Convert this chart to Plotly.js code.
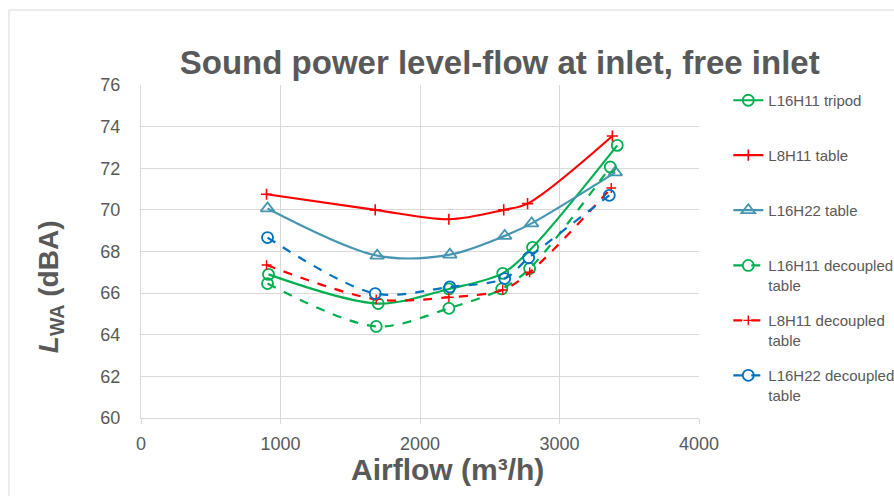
<!DOCTYPE html>
<html>
<head>
<meta charset="utf-8">
<script src="https://cdn.plot.ly/plotly-3.0.1.min.js"></script>
<style>
html,body{margin:0;padding:0;background:#ffffff;}
#chart{width:894px;height:496px;}
</style>
</head>
<body>
<div id="chart"></div>
<script>
// ---- data ----
const seriesNames = ["L16H11 tripod", "L8H11 table", "L16H22 table",
  "L16H11 decoupled<br>table", "L8H11 decoupled<br>table", "L16H22 decoupled<br>table"];

const tripodX = [914, 1700, 2207, 2593, 2807, 3414];
const tripodY = [66.9, 65.5, 66.2, 66.95, 68.2, 73.1];

const l8h11TableX = [900, 1679, 2207, 2600, 2771, 3379];
const l8h11TableY = [70.75, 70.0, 69.55, 70.0, 70.3, 73.55];

const l16h22TableX = [907, 1693, 2214, 2607, 2800, 3400];
const l16h22TableY = [70.07, 67.8, 67.85, 68.75, 69.35, 71.8];

const l16h11DecX = [907, 1686, 2207, 2586, 2786, 3364];
const l16h11DecY = [66.46, 64.4, 65.27, 66.2, 67.18, 72.06];

const l8h11DecX = [900, 1686, 2207, 2593, 2786, 3371];
const l8h11DecY = [67.35, 65.7, 65.8, 66.15, 67.0, 71.05];

const l16h22DecX = [907, 1679, 2214, 2607, 2779, 3357];
const l16h22DecY = [68.67, 65.98, 66.3, 66.7, 67.7, 70.7];

const xTickVals = [0, 1000, 2000, 3000, 4000];
const yTickVals = [60, 62, 64, 66, 68, 70, 72, 74, 76];

// ---- styling ----
const GREEN = "#00B050", RED = "#FF0000", TEAL = "#4796B1", BLUE = "#0070C0";
const FONT = "Arial, 'Liberation Sans', sans-serif";
const GREY = "#595959";

function tr(x, y, name, color, dash, symbol, msize, mw, leg) {
  return {
    x: x, y: y, name: name, type: "scatter", mode: "lines+markers",
    line: {color: color, width: 2.2, dash: dash, shape: "spline", smoothing: 0.9},
    marker: {symbol: symbol, size: msize, color: color, line: {color: color, width: mw}},
    legend: leg
  };
}

const data = [
  tr(tripodX, tripodY, seriesNames[0], GREEN, "solid", "circle-open", 11, 1.8, "legend"),
  tr(l8h11TableX, l8h11TableY, seriesNames[1], RED, "solid", "cross-thin-open", 8, 1.6, "legend2"),
  tr(l16h22TableX, l16h22TableY, seriesNames[2], TEAL, "solid", "triangle-up-open", 12, 1.8, "legend3"),
  tr(l16h11DecX, l16h11DecY, seriesNames[3], GREEN, "dash", "circle-open", 11, 1.8, "legend4"),
  tr(l8h11DecX, l8h11DecY, seriesNames[4], RED, "dash", "cross-thin-open", 7, 1.4, "legend5"),
  tr(l16h22DecX, l16h22DecY, seriesNames[5], BLUE, "dash", "circle-open", 11, 1.8, "legend6")
];

function leg(y) {
  return {x: 1.0525, xanchor: "left", y: y, yanchor: "top", valign: "top",
    font: {family: FONT, size: 15, color: GREY}, bgcolor: "rgba(0,0,0,0)",
    borderwidth: 0};
}

const layout = {
  width: 894, height: 496,
  margin: {l: 141, r: 195, t: 85, b: 78, pad: 0, autoexpand: false},
  paper_bgcolor: "#ffffff", plot_bgcolor: "#ffffff",
  font: {family: FONT, color: GREY},
  title: {text: "<b>Sound power level-flow at inlet, free inlet</b>",
    font: {family: FONT, size: 33, color: GREY},
    x: 0.559, xanchor: "center", xref: "container", y: 0.875, yanchor: "middle", yref: "container"},
  xaxis: {range: [0, 4000], tickvals: xTickVals, ticktext: xTickVals.map(String),
    showgrid: true, gridcolor: "#d9d9d9", gridwidth: 1,
    showline: true, linecolor: "#d9d9d9", linewidth: 1,
    ticks: "outside", ticklen: 5, tickcolor: "#d9d9d9",
    tickfont: {family: FONT, size: 18, color: GREY}, ticklabelstandoff: 4,
    zeroline: false, fixedrange: true, automargin: false},
  yaxis: {range: [60, 76], tickvals: yTickVals, ticktext: yTickVals.map(String),
    showgrid: true, gridcolor: "#d9d9d9", gridwidth: 1,
    showline: true, linecolor: "#d9d9d9", linewidth: 1,
    ticks: "", tickfont: {family: FONT, size: 18, color: GREY}, ticklabelstandoff: 16,
    zeroline: false, fixedrange: true, automargin: false},
  showlegend: true,
  legend: leg(1.003), legend2: leg(0.838), legend3: leg(0.673),
  legend4: leg(0.507), legend5: leg(0.342), legend6: leg(0.177),
  annotations: [
    {text: "<b><i>L</i><sub>WA</sub> (dBA)</b>", xref: "paper", yref: "paper",
      x: -0.163, y: 0.393, xanchor: "center", yanchor: "middle", textangle: -90,
      showarrow: false, font: {family: FONT, size: 28, color: GREY}},
    {text: "<b>Airflow (m³/h)</b>", xref: "paper", yref: "paper",
      x: 0.550, y: -0.156, xanchor: "center", yanchor: "middle",
      showarrow: false, font: {family: FONT, size: 30, color: GREY}}
  ],
  shapes: [
    {type: "line", xref: "paper", yref: "paper", x0: -0.2366, x1: -0.2366, y0: 1.2252, y1: -0.3,
      line: {color: "#d9d9d9", width: 1}},
    {type: "line", xref: "paper", yref: "paper", x0: -0.2366, x1: 1.4, y0: 1.2252, y1: 1.2252,
      line: {color: "#d9d9d9", width: 1}}
  ]
};

Plotly.newPlot("chart", data, layout, {displayModeBar: false, staticPlot: true});
</script>
</body>
</html>
